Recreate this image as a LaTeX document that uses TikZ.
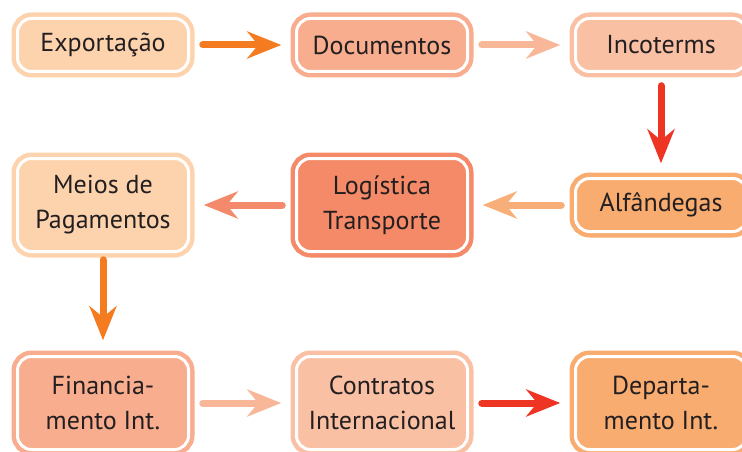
\documentclass[tikz,border=0pt]{standalone}
\usepackage{fontspec}
\setmainfont{PT Sans}
\usepackage{xcolor}
\usepackage{tikz}
\usetikzlibrary{arrows.meta}
\usetikzlibrary{positioning}

\definecolor{peach}{HTML}{FDD3AE}
\definecolor{salmon}{HTML}{F8AD8E}
\definecolor{lightsalmon}{HTML}{FAC0A4}
\definecolor{deepsalmon}{HTML}{F48A67}
\definecolor{apricot}{HTML}{F8AC70}
\definecolor{orangearrow}{HTML}{F47B20}
\definecolor{redarrow}{HTML}{EE3524}
\definecolor{pinkarrow}{HTML}{F9B79A}
\definecolor{apricotarrow}{HTML}{F7AE78}
\definecolor{salmonarrow}{HTML}{F28A6B}
\definecolor{ink}{HTML}{231F20}

\begin{document}
\begin{tikzpicture} [
	x=1pt, y=1pt,
	node distance=279pt, % distance between the centres of two boxes
	topic/.style={draw=#1, fill=#1, double=white, double distance=3pt, line width=4.5pt,
		rounded corners=14pt, minimum width=171pt, minimum height=53pt,
		align=center, text=ink, font=\fontsize{26}{35}\selectfont}, % boxes with a white ring
	tall/.style={minimum height=93pt}, % boxes with two lines of text
	flow/.style={draw=#1, line width=7pt, line cap=round,
		-{Stealth[length=34pt, width=27pt, inset=11pt]},
		shorten <=12pt, shorten >=13pt}, % thick arrows between the boxes
	]
	\useasboundingbox (0,0) rectangle (742,-452);

	\node[topic=peach] (expo) at (103,-45) {Exportação};
	\node[topic=salmon, right of=expo] (docs) {Documentos};
	\node[topic=lightsalmon, right of=docs] (inco) {Incoterms};
	\node[topic=apricot, below of=inco, node distance=160pt] (alfa) {Alfândegas};
	\node[topic=deepsalmon, tall, left of=alfa] (logi) {Logística\\Transporte};
	\node[topic=peach, tall, left of=logi] (meios) {Meios de\\Pagamentos};
	\node[topic=salmon, tall, below of=meios, node distance=198pt] (fin) {Financia-\\mento Int.};
	\node[topic=lightsalmon, tall, right of=fin] (contr) {Contratos\\Internacional};
	\node[topic=apricot, tall, right of=contr] (dept) {Departa-\\mento Int.};

	\draw[flow=orangearrow] (expo) -- (docs);
	\draw[flow=pinkarrow] (docs) -- (inco);
	\draw[flow=redarrow] (inco) -- (alfa);
	\draw[flow=apricotarrow] (alfa) -- (logi);
	\draw[flow=salmonarrow] (logi) -- (meios);
	\draw[flow=orangearrow, shorten <=6pt, shorten >=14pt] (meios) -- (fin);
	\draw[flow=pinkarrow] (fin) -- (contr);
	\draw[flow=redarrow] (contr) -- (dept);
\end{tikzpicture}
\end{document}
